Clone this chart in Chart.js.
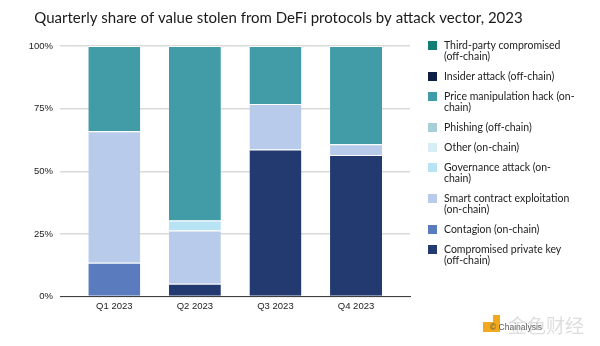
<!DOCTYPE html>
<html>
<head>
<meta charset="utf-8">
<script src="https://cdn.jsdelivr.net/npm/chart.js@4/dist/chart.umd.min.js"></script>
<style>
  body { margin: 0; background: #fff; }
  #wrap { position: relative; width: 600px; height: 346px; }
  #legend { position: absolute; left: 428px; top: 40px; margin: 0; padding: 0; list-style: none;
            font: 10.5px Lato, sans-serif; line-height: 11px; color: #222; }
  #legend li { position: relative; padding-left: 16px; margin-bottom: 9px; }
  #legend li span { position: absolute; left: 0; top: 1px; width: 9px; height: 9px; }
  .wm-logo { position: absolute; background: #f2a91d; }
  .wm-copy { position: absolute; left: 490px; top: 322px; font: 8.5px "Liberation Sans", sans-serif; color: #555; }
  .wm-cn { position: absolute; left: 508px; top: 311px; font: 19px "Noto Sans CJK SC", sans-serif; color: rgba(190,190,190,0.5); }
</style>
</head>
<body>
<div id="wrap">
  <canvas id="chart" width="600" height="346"></canvas>
  <ul id="legend"></ul>
  <div class="wm-logo" style="left:483px;top:322px;width:10px;height:10px"></div>
  <div class="wm-logo" style="left:493px;top:315px;width:7px;height:17px"></div>
  <div class="wm-copy">© Chainalysis</div>
  <div class="wm-cn">金色财经</div>
</div>
<script>
// ==============================
// Data (percent of each quarter)
// ==============================
const quarters = ["Q1 2023", "Q2 2023", "Q3 2023", "Q4 2023"];
const yTicks = [0, 25, 50, 75, 100];

// stacked bottom -> top
const compromisedKey = [0, 5.1, 58.7, 56.5];
const contagion = [13.5, 0, 0, 0];
const smartContract = [52.5, 21.3, 18.2, 4.3];
const governance = [0, 4.0, 0, 0];
const otherOnChain = [0, 0, 0, 0];
const phishing = [0, 0, 0, 0];
const priceManipulation = [34.0, 69.6, 23.1, 39.2];
const insiderAttack = [0, 0, 0, 0];
const thirdParty = [0, 0, 0, 0];

// legend text, split the way the reference wraps it
const seriesNames = [
  ["Compromised private key", "(off-chain)"],
  ["Contagion (on-chain)"],
  ["Smart contract exploitation", "(on-chain)"],
  ["Governance attack (on-", "chain)"],
  ["Other (on-chain)"],
  ["Phishing (off-chain)"],
  ["Price manipulation hack (on-", "chain)"],
  ["Insider attack (off-chain)"],
  ["Third-party compromised", "(off-chain)"]
];
const seriesValues = [compromisedKey, contagion, smartContract, governance, otherOnChain,
  phishing, priceManipulation, insiderAttack, thirdParty];
const seriesColors = ["#223a70", "#5a7cbf", "#b8cbeb", "#b8e3f5", "#d8eef7",
  "#a8cfd8", "#419ca8", "#0d1f45", "#127d70"];

// quarters sit on a linear axis so the bars keep the reference spacing
const quarterPos = quarters.map((_, i) => i);

const datasets = seriesValues.map((vals, i) => ({
  label: seriesNames[i].join(" "),
  data: vals,
  backgroundColor: seriesColors[i],
  borderColor: "rgba(255,255,255,0.85)",
  borderWidth: { top: 1 },
  borderSkipped: false,
  categoryPercentage: 1,
  barPercentage: 0.645
}));

// ==============================
// HTML legend (built-in one can't get wide enough on the right)
// ==============================
const htmlLegend = {
  id: "htmlLegend",
  afterUpdate(chart) {
    const ul = document.getElementById("legend");
    ul.innerHTML = "";
    const items = Chart.defaults.plugins.legend.labels.generateLabels(chart).reverse();
    items.forEach((item) => {
      const li = document.createElement("li");
      const box = document.createElement("span");
      box.style.background = item.fillStyle;
      li.appendChild(box);
      seriesNames[item.datasetIndex].forEach((line, j) => {
        if (j > 0) li.appendChild(document.createElement("br"));
        li.appendChild(document.createTextNode(line));
      });
      ul.appendChild(li);
    });
  }
};

const tickFont = { family: "'Liberation Sans', Arial, sans-serif", size: 9.5 };

new Chart(document.getElementById("chart"), {
  type: "bar",
  data: { labels: quarterPos, datasets: datasets },
  plugins: [htmlLegend],
  options: {
    responsive: false,
    animation: false,
    layout: { padding: { left: 29, right: 72, top: 0, bottom: 30 } },
    plugins: {
      title: {
        display: true,
        text: "Quarterly share of value stolen from DeFi protocols by attack vector, 2023",
        color: "#1a1a1a",
        font: { family: "Lato, sans-serif", size: 15, weight: "normal" },
        padding: { top: 9, bottom: 19 }
      },
      legend: { display: false },
      tooltip: { enabled: false }
    },
    scales: {
      x: {
        type: "linear",
        stacked: true,
        offset: false,
        min: -0.674,
        max: 3.67,
        grid: { display: false, drawTicks: false },
        border: { display: true, color: "#404040", width: 1 },
        ticks: {
          stepSize: 1,
          includeBounds: false,
          padding: 4,
          color: "#222",
          font: tickFont,
          callback: (v) => quarters[v] ?? ""
        }
      },
      y: {
        stacked: true,
        min: 0,
        max: 100,
        afterBuildTicks: (scale) => { scale.ticks = yTicks.map((v) => ({ value: v })); },
        afterFit: (scale) => { scale.width = 31; },
        grid: { color: "#d9d9d9", lineWidth: 1.5, drawTicks: false },
        border: { display: false },
        ticks: { padding: 7, color: "#222", font: tickFont, callback: (v) => v + "%" }
      },
      // room on the right for the legend
      gap: {
        position: "right",
        grid: { display: false },
        border: { display: false },
        ticks: { display: false },
        afterFit: (scale) => { scale.width = 118; }
      }
    }
  }
});
</script>
</body>
</html>
